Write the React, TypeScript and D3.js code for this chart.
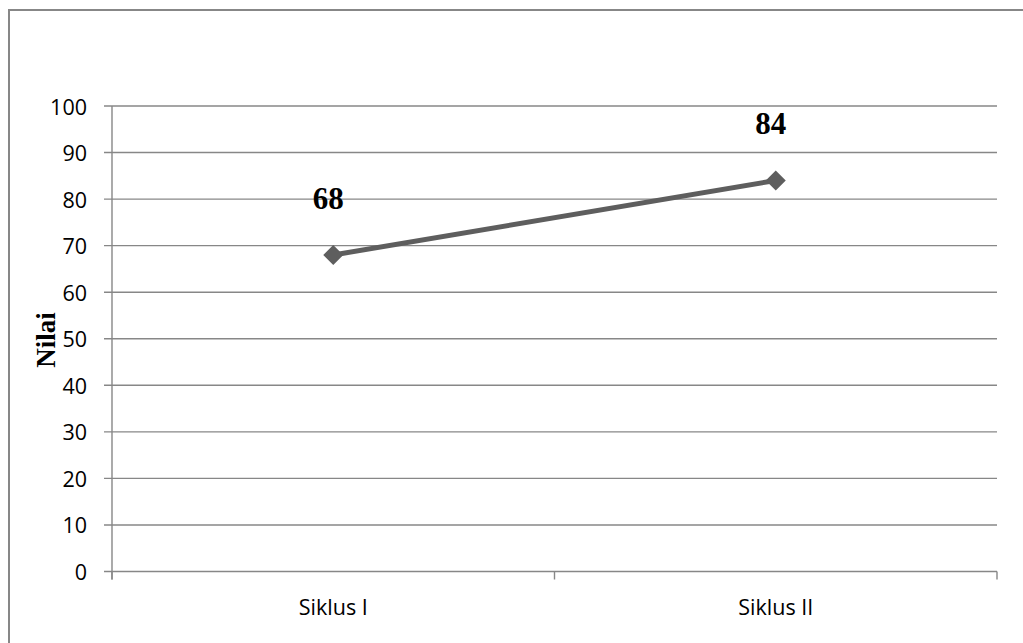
import React from "react";
import * as d3 from "d3";

// Mean score per cycle
const categories = ["Siklus I", "Siklus II"];
const values = [68, 84];
const yTicks = [0, 10, 20, 30, 40, 50, 60, 70, 80, 90, 100];
const yTitle = "Nilai";

const W = 1023;
const H = 643;
const plot = { left: 112, right: 997, top: 106, bottom: 571.5 };
const gridColor = "#878787";
const lineColor = "#5e5e5e";
const tickFont = "'Open Sans', 'Noto Sans', sans-serif";

export default function App() {
  const x = d3
    .scaleBand<string>()
    .domain(categories)
    .range([plot.left, plot.right])
    .paddingInner(0)
    .paddingOuter(0);
  const y = d3.scaleLinear().domain([0, 100]).range([plot.bottom, plot.top]);

  const cx = (c: string) => (x(c) ?? 0) + x.bandwidth() / 2;
  const pts: [number, number][] = categories.map((c, i) => [cx(c), y(values[i])]);
  const linePath = d3.line()(pts) ?? "";
  const marker = d3.symbol(d3.symbolSquare, 200)() ?? "";

  // category boundaries for the x-axis tick marks
  const xTickPos = [plot.left, ...categories.map((c) => (x(c) ?? 0) + x.bandwidth())];

  return (
    <svg
      width={W}
      height={H}
      style={{ position: "absolute", left: 0, top: 0, background: "#fff" }}
    >
      <rect x={9} y={10} width={1030} height={650} fill="#fff" stroke={gridColor} strokeWidth={2} />

      {/* horizontal gridlines with left tick marks */}
      {yTicks.map((t) => (
        <g key={t}>
          <line
            x1={plot.left - 8}
            x2={plot.right}
            y1={y(t)}
            y2={y(t)}
            stroke={gridColor}
            strokeWidth={1.4}
          />
          <text
            x={87}
            y={y(t)}
            textAnchor="end"
            dominantBaseline="central"
            fontFamily={tickFont}
            fontSize={21.5}
            fill="#000"
          >
            {t}
          </text>
        </g>
      ))}

      {/* vertical axis */}
      <line
        x1={plot.left}
        x2={plot.left}
        y1={plot.top}
        y2={plot.bottom + 8}
        stroke={gridColor}
        strokeWidth={1.4}
      />
      {/* x-axis tick marks */}
      {xTickPos.map((p, i) => (
        <line
          key={i}
          x1={p}
          x2={p}
          y1={plot.bottom}
          y2={plot.bottom + 8}
          stroke={gridColor}
          strokeWidth={1.4}
        />
      ))}
      {categories.map((c) => (
        <text
          key={c}
          x={cx(c)}
          y={615}
          textAnchor="middle"
          fontFamily={tickFont}
          fontSize={21.5}
          fill="#000"
        >
          {c}
        </text>
      ))}

      {/* y-axis title */}
      <text
        transform="translate(55,340) rotate(-90)"
        textAnchor="middle"
        fontFamily="'Liberation Serif', 'Times New Roman', serif"
        fontWeight="bold"
        fontSize={27}
        fill="#000"
      >
        {yTitle}
      </text>

      {/* series line and markers */}
      <path d={linePath} fill="none" stroke={lineColor} strokeWidth={5} strokeLinejoin="round" />
      {pts.map(([px, py], i) => (
        <path
          key={i}
          d={marker}
          transform={`translate(${px},${py}) rotate(45)`}
          fill={lineColor}
        />
      ))}

      {/* value labels */}
      {pts.map(([px, py], i) => (
        <text
          key={i}
          x={px - 5}
          y={py - 46}
          textAnchor="middle"
          fontFamily="'Liberation Serif', 'Times New Roman', serif"
          fontWeight="bold"
          fontSize={31}
          fill="#000"
        >
          {values[i]}
        </text>
      ))}
    </svg>
  );
}
